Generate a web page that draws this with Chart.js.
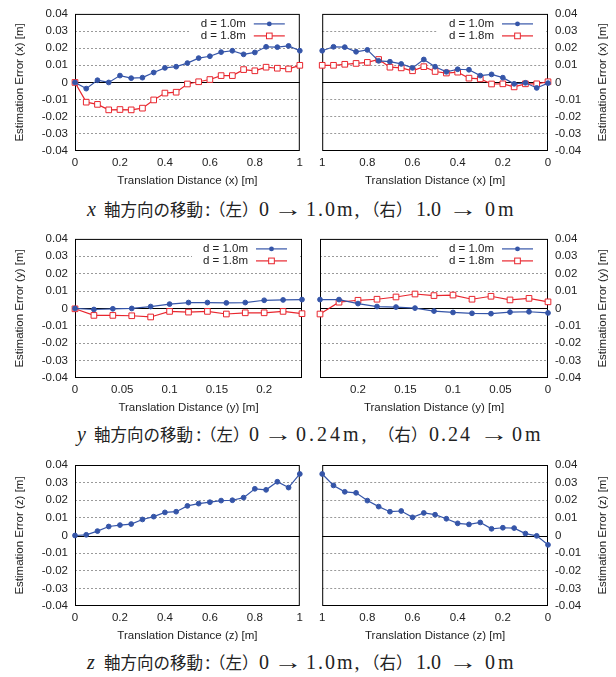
<!DOCTYPE html>
<html>
<head>
<meta charset="utf-8">
<script src="https://cdn.jsdelivr.net/npm/chart.js@4.4.1/dist/chart.umd.min.js"></script>
<style>
  body { margin: 0; background: #fff; }
  #page { position: relative; width: 616px; height: 677px; overflow: hidden; }
  .cv { position: absolute; }
  .cap { position: absolute; left: 0; width: 616px; height: 24px; color: #222; }
  .cap span {
    position: absolute; top: 0; line-height: 24px; white-space: nowrap;
    font-family: 'Liberation Serif', 'DejaVu Serif', serif; font-size: 20px;
  }
  .cap span.jp { font-family: 'Noto Sans CJK JP', sans-serif; font-size: 16.5px; letter-spacing: 0; }
  .cap span.ar { width: 24px; text-align: center; transform: scaleX(1.45); }
  .cap span.ls2 { letter-spacing: 2px; }
  .cap span.ls3 { letter-spacing: 3px; }
</style>
</head>
<body>
<div id="page">
  <canvas id="c1" class="cv" width="308" height="192" style="left:0;top:0"></canvas>
  <canvas id="c2" class="cv" width="302" height="192" style="left:314px;top:0"></canvas>
  <div class="cap" style="top:197px">
    <span style="left:87px"><i>x</i></span><span class="jp" style="left:104px">軸方向の移動</span><span style="left:205px">:</span><span class="jp" style="left:209px">（左）</span><span style="left:259px">0</span><span class="ar" style="left:276px">→</span><span class="ls2" style="left:306px">1.0m,</span><span class="jp" style="left:363px">（右）</span><span style="left:416px">1.0</span><span class="ar" style="left:451px">→</span><span class="ls3" style="left:485px">0m</span>
  </div>

  <canvas id="c3" class="cv" width="308" height="194" style="left:0;top:225px"></canvas>
  <canvas id="c4" class="cv" width="302" height="194" style="left:314px;top:225px"></canvas>
  <div class="cap" style="top:422px">
    <span style="left:77px"><i>y</i></span><span class="jp" style="left:94px">軸方向の移動</span><span style="left:196px">:</span><span class="jp" style="left:200px">（左）</span><span style="left:249px">0</span><span class="ar" style="left:266px">→</span><span class="ls3" style="left:296px">0.24m,</span><span class="jp" style="left:378px">（右）</span><span class="ls2" style="left:429px">0.24</span><span class="ar" style="left:482px">→</span><span class="ls3" style="left:512px">0m</span>
  </div>

  <canvas id="c5" class="cv" width="308" height="197" style="left:0;top:450px"></canvas>
  <canvas id="c6" class="cv" width="302" height="197" style="left:314px;top:450px"></canvas>
  <div class="cap" style="top:650px">
    <span style="left:87px"><i>z</i></span><span class="jp" style="left:104px">軸方向の移動</span><span style="left:205px">:</span><span class="jp" style="left:209px">（左）</span><span style="left:259px">0</span><span class="ar" style="left:276px">→</span><span class="ls2" style="left:306px">1.0m,</span><span class="jp" style="left:363px">（右）</span><span style="left:416px">1.0</span><span class="ar" style="left:451px">→</span><span class="ls3" style="left:485px">0m</span>
  </div>
</div>
<script>
// distances (m)
const xDist = [0, 0.05, 0.1, 0.15, 0.2, 0.25, 0.3, 0.35, 0.4, 0.45, 0.5, 0.55, 0.6, 0.65, 0.7, 0.75, 0.8, 0.85, 0.9, 0.95, 1.0];
const xDistBack = [1.0, 0.95, 0.9, 0.85, 0.8, 0.75, 0.7, 0.65, 0.6, 0.55, 0.5, 0.45, 0.4, 0.35, 0.3, 0.25, 0.2, 0.15, 0.1, 0.05, 0];
const yDist = [0, 0.02, 0.04, 0.06, 0.08, 0.1, 0.12, 0.14, 0.16, 0.18, 0.2, 0.22, 0.24];
const yDistBack = [0.24, 0.22, 0.2, 0.18, 0.16, 0.14, 0.12, 0.1, 0.08, 0.06, 0.04, 0.02, 0];

// estimation errors (m)
const xFwd10 = [0, -0.0036, 0.0013, 0, 0.004, 0.0025, 0.0028, 0.0058, 0.0085, 0.0092, 0.0113, 0.0142, 0.0153, 0.0177, 0.0185, 0.0164, 0.0175, 0.0208, 0.0206, 0.0213, 0.0185];
const xFwd18 = [0, -0.0115, -0.0128, -0.016, -0.0158, -0.016, -0.015, -0.0102, -0.0062, -0.0057, -0.0009, 0.0004, 0.0017, 0.004, 0.004, 0.0075, 0.0068, 0.0089, 0.0083, 0.0079, 0.01];
const xBack10 = [0.0185, 0.0208, 0.0206, 0.0179, 0.019, 0.0126, 0.0121, 0.0108, 0.0085, 0.0134, 0.0092, 0.0062, 0.0077, 0.0074, 0.004, 0.0047, 0.0028, -0.0008, -0.0002, -0.0032, -0.0004];
const xBack18 = [0.01, 0.01, 0.0106, 0.0111, 0.0117, 0.0134, 0.0089, 0.0085, 0.0068, 0.0092, 0.0064, 0.0055, 0.006, 0.0025, 0.0021, -0.0009, -0.0008, -0.0026, -0.0008, -0.0008, 0.0004];

const yFwd10 = [0, -0.0006, -0.0002, 0, 0.0011, 0.0025, 0.0034, 0.0034, 0.0032, 0.0034, 0.0047, 0.0049, 0.0051];
const yFwd18 = [-0.0002, -0.004, -0.004, -0.0042, -0.0049, -0.0017, -0.0021, -0.0017, -0.0032, -0.0025, -0.0025, -0.0017, -0.003];
const yBack10 = [0.0051, 0.0051, 0.0028, 0.0011, 0.0008, 0.0002, -0.0015, -0.0023, -0.0028, -0.003, -0.0021, -0.0019, -0.0026];
const yBack18 = [-0.0032, 0.0036, 0.0047, 0.0053, 0.0066, 0.0083, 0.0074, 0.0077, 0.0053, 0.007, 0.0049, 0.0058, 0.0038];

const zFwd = [0, 0.0004, 0.0025, 0.0051, 0.0059, 0.0065, 0.0091, 0.0107, 0.0131, 0.0135, 0.0168, 0.0181, 0.0189, 0.0198, 0.02, 0.0215, 0.0265, 0.0259, 0.0305, 0.0272, 0.0349];
const zBack = [0.0349, 0.0284, 0.0248, 0.0242, 0.0198, 0.0164, 0.0135, 0.0139, 0.0103, 0.0128, 0.0118, 0.0095, 0.0069, 0.0063, 0.0074, 0.0038, 0.0044, 0.0042, 0.0011, -0.0002, -0.0053];

const label10 = 'd = 1.0m';
const label18 = 'd = 1.8m';

const FONT = "'Liberation Sans', Arial, sans-serif";
const FSIZE = 11.5;
const TXT = '#222';
const BLUE = '#3555a8';
const RED = '#e8262e';

function toPoints(xs, ys) {
    return xs.map((x, i) => ({ x: x, y: ys[i] }));
}

function serie(label, xs, ys, color) {
    const red = color === RED;
    return {
        label: label,
        data: toPoints(xs, ys),
        borderColor: color,
        backgroundColor: red ? '#fff' : color,
        pointBackgroundColor: red ? '#fff' : color,
        pointBorderColor: color,
        pointStyle: red ? 'rect' : 'circle',
        pointRadius: red ? 4 : 2.4,
        pointBorderWidth: 1,
        borderWidth: 1.2,
        tension: 0,
        clip: false
    };
}

function fmt(v) {
    return String(Math.round(v * 1000) / 1000);
}

// marco del grafico y linea de cero (estilo gnuplot)
const boxPlugin = {
    id: 'box',
    beforeDatasetsDraw(chart) {
        const { ctx, chartArea: a } = chart;
        const y0 = Math.round(chart.scales.y.getPixelForValue(0)) + 0.5;
        ctx.save();
        ctx.strokeStyle = '#000';
        ctx.lineWidth = 1;
        ctx.beginPath();
        ctx.moveTo(a.left, y0);
        ctx.lineTo(a.right, y0);
        ctx.stroke();
        ctx.strokeRect(a.left + 0.5, a.top + 0.5, a.width - 1, a.height - 1);
        ctx.restore();
    }
};

// leyenda: texto y luego la muestra de linea
const gnuLegend = {
    id: 'gnuLegend',
    afterDatasetsDraw(chart, args, opts) {
        if (!opts.display) return;
        const { ctx, chartArea: a } = chart;
        ctx.save();
        ctx.fillStyle = '#fff';
        ctx.fillRect(a.right - 110, a.top + 3, 108, 25);
        chart.data.datasets.forEach((ds, i) => {
            const yy = a.top + 10 + i * 12;
            ctx.fillStyle = TXT;
            ctx.font = FSIZE + 'px ' + FONT;
            ctx.textAlign = 'right';
            ctx.textBaseline = 'middle';
            ctx.fillText(ds.label, a.right - 54, yy);
            ctx.strokeStyle = ds.borderColor;
            ctx.lineWidth = ds.borderWidth;
            ctx.beginPath();
            ctx.moveTo(a.right - 46, yy);
            ctx.lineTo(a.right - 15, yy);
            ctx.stroke();
            const mx = a.right - 30.5;
            ctx.lineWidth = 1;
            if (ds.pointStyle === 'rect') {
                const s = ds.pointRadius * Math.SQRT1_2;
                ctx.fillStyle = '#fff';
                ctx.fillRect(mx - s, yy - s, 2 * s, 2 * s);
                ctx.strokeRect(mx - s, yy - s, 2 * s, 2 * s);
            } else {
                ctx.fillStyle = ds.borderColor;
                ctx.beginPath();
                ctx.arc(mx, yy, ds.pointRadius, 0, Math.PI * 2);
                ctx.fill();
            }
        });
        ctx.restore();
    }
};

// titulo del eje y, siempre girado de abajo hacia arriba
const yTitlePlugin = {
    id: 'yTitle',
    afterDraw(chart, args, opts) {
        const { ctx, chartArea: a } = chart;
        const x = opts.side === 'left' ? 20 : chart.width - 13;
        ctx.save();
        ctx.translate(x, (a.top + a.bottom) / 2);
        ctx.rotate(-Math.PI / 2);
        ctx.fillStyle = TXT;
        ctx.font = FSIZE + 'px ' + FONT;
        ctx.textAlign = 'center';
        ctx.textBaseline = 'middle';
        ctx.fillText(opts.text, 0, 0);
        ctx.restore();
    }
};

function gridColor(c) {
    const v = c.tick ? c.tick.value : 0;
    if (Math.abs(v) < 1e-9 || Math.abs(Math.abs(v) - 0.04) < 1e-9) return 'rgba(0,0,0,0)';
    return '#9a9a9a';
}

function crearGrafico(id, cfg) {
    const left = cfg.side === 'left';
    const ctx = document.getElementById(id).getContext('2d');
    return new Chart(ctx, {
        type: 'line',
        data: { datasets: cfg.datasets },
        options: {
            responsive: false,
            animation: false,
            layout: {
                autoPadding: false,
                padding: { top: cfg.plotTop, right: left ? 6 : 0, left: left ? 0 : 6, bottom: 0 }
            },
            plugins: {
                legend: { display: false },
                tooltip: { enabled: false },
                gnuLegend: { display: cfg.legend },
                yTitle: { text: cfg.yTitle, side: cfg.side }
            },
            scales: {
                x: {
                    type: 'linear',
                    min: 0,
                    max: cfg.xMax,
                    reverse: !left,
                    ticks: {
                        stepSize: cfg.xStep, includeBounds: false, padding: 5, maxRotation: 0,
                        autoSkip: false, font: { family: FONT, size: FSIZE }, color: TXT, callback: fmt
                    },
                    grid: { display: false, drawTicks: false },
                    border: { display: false },
                    title: {
                        display: true, text: cfg.xTitle, color: TXT,
                        font: { family: FONT, size: FSIZE }, padding: { top: 0, bottom: 4 }
                    },
                    afterFit: s => { s.height = 41; }
                },
                y: {
                    type: 'linear',
                    position: cfg.side,
                    min: -0.04,
                    max: 0.04,
                    ticks: {
                        stepSize: 0.01, padding: 7, autoSkip: false,
                        font: { family: FONT, size: FSIZE }, color: TXT, callback: fmt
                    },
                    grid: { color: gridColor, drawTicks: false, lineWidth: 1 },
                    border: { display: false, dash: [2, 2] },
                    afterFit: s => { s.width = left ? 75 : 68; }
                }
            }
        },
        plugins: [boxPlugin, gnuLegend, yTitlePlugin]
    });
}

crearGrafico('c1', {
    side: 'left', plotTop: 9, xMax: 1, xStep: 0.2, legend: true,
    xTitle: 'Translation Distance (x) [m]', yTitle: 'Estimation Error (x) [m]',
    datasets: [serie(label10, xDist, xFwd10, BLUE), serie(label18, xDist, xFwd18, RED)]
});
crearGrafico('c2', {
    side: 'right', plotTop: 9, xMax: 1, xStep: 0.2, legend: true,
    xTitle: 'Translation Distance (x) [m]', yTitle: 'Estimation Error (x) [m]',
    datasets: [serie(label10, xDistBack, xBack10, BLUE), serie(label18, xDistBack, xBack18, RED)]
});
crearGrafico('c3', {
    side: 'left', plotTop: 12, xMax: 0.24, xStep: 0.05, legend: true,
    xTitle: 'Translation Distance (y) [m]', yTitle: 'Estimation Error (y) [m]',
    datasets: [serie(label10, yDist, yFwd10, BLUE), serie(label18, yDist, yFwd18, RED)]
});
crearGrafico('c4', {
    side: 'right', plotTop: 12, xMax: 0.24, xStep: 0.05, legend: true,
    xTitle: 'Translation Distance (y) [m]', yTitle: 'Estimation Error (y) [m]',
    datasets: [serie(label10, yDistBack, yBack10, BLUE), serie(label18, yDistBack, yBack18, RED)]
});
crearGrafico('c5', {
    side: 'left', plotTop: 15, xMax: 1, xStep: 0.2, legend: false,
    xTitle: 'Translation Distance (z) [m]', yTitle: 'Estimation Error (z) [m]',
    datasets: [serie(label10, xDist, zFwd, BLUE)]
});
crearGrafico('c6', {
    side: 'right', plotTop: 15, xMax: 1, xStep: 0.2, legend: false,
    xTitle: 'Translation Distance (z) [m]', yTitle: 'Estimation Error (z) [m]',
    datasets: [serie(label10, xDistBack, zBack, BLUE)]
});
</script>
</body>
</html>
